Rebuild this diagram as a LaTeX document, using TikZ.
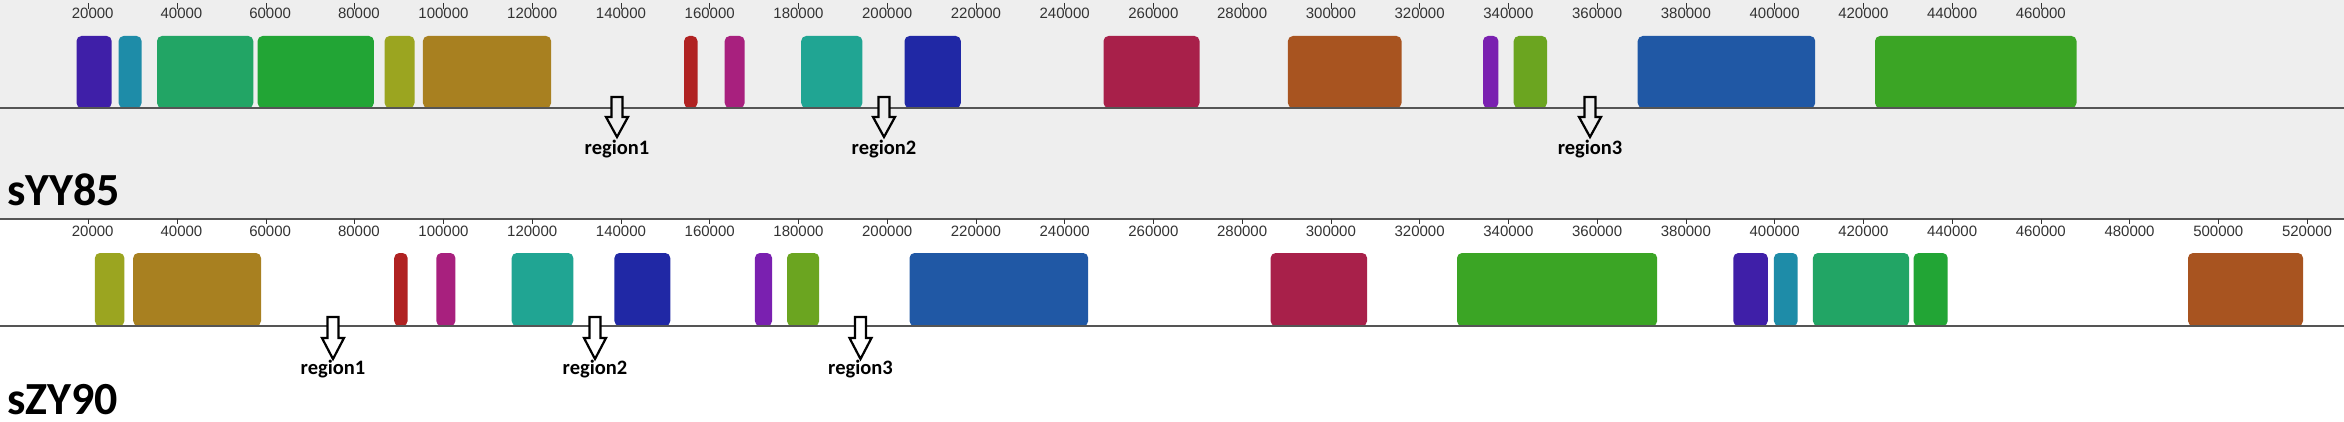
\documentclass[tikz,border=0pt]{standalone}
\usepackage{fontspec}
\setmainfont{Liberation Sans}
\newfontfamily\calib{Carlito}
\definecolor{bgtop}{HTML}{EEEEEE}
\definecolor{lineg}{HTML}{555555}
\definecolor{tickc}{HTML}{333333}
\definecolor{cIndigo}{HTML}{3F1FA8}
\definecolor{cTealBlue}{HTML}{1E8CA8}
\definecolor{cSeaGreen}{HTML}{22A565}
\definecolor{cGreen}{HTML}{22A535}
\definecolor{cOlive}{HTML}{9BA520}
\definecolor{cGold}{HTML}{A88020}
\definecolor{cRed}{HTML}{B02222}
\definecolor{cMagenta}{HTML}{A8207E}
\definecolor{cTeal}{HTML}{20A593}
\definecolor{cDarkBlue}{HTML}{2028A5}
\definecolor{cCrimson}{HTML}{A8204A}
\definecolor{cRust}{HTML}{A85420}
\definecolor{cPurple}{HTML}{7A20B0}
\definecolor{cLime}{HTML}{6BA520}
\definecolor{cBlue}{HTML}{2058A5}
\definecolor{cBigGreen}{HTML}{3BA525}
\begin{document}
\begin{tikzpicture}[x=1pt,y=-1pt,
  blk/.style={rounded corners=5pt},
  seqline/.style={line width=2pt,draw=lineg},
  tickmark/.style={draw=tickc,line width=1pt},
  tickl/.style={font=\fontsize{15}{15}\selectfont,text=tickc,anchor=base east,inner sep=0pt},
  regarrow/.style={draw=black,line width=2.2pt,line join=miter},
  reglab/.style={font=\calib\bfseries\fontsize{20.5}{20.5}\selectfont,inner sep=0pt,anchor=base},
  genome/.style={font=\calib\bfseries\fontsize{46}{46}\selectfont,inner sep=0pt,anchor=base west}]
\useasboundingbox (0,0) rectangle (2344,422);
\fill[bgtop] (0,0) rectangle (2344,219);
\fill[white] (0,219) rectangle (2344,422);

% ---------- top panel (sYY85) ----------
\foreach \k in {1,...,23}{
  \draw[tickmark] ({88.74*\k},3) -- ({88.74*\k},9);
  \node[tickl] (tt\k) at ({88.74*\k+25},19) {\the\numexpr\k*20000\relax};
}
\foreach \a/\b/\c in {76.5/111.7/cIndigo, 118.6/141.6/cTealBlue, 157/253.3/cSeaGreen,
  257.6/373.9/cGreen, 384.6/414.5/cOlive, 422.9/551.1/cGold, 684.1/697.5/cRed,
  724.7/744.6/cMagenta, 801.2/862.4/cTeal, 904.5/960.8/cDarkBlue, 1103.5/1199.5/cCrimson,
  1287.9/1401.5/cRust, 1483/1498.4/cPurple, 1513.7/1547/cLime, 1637.7/1815.2/cBlue,
  1875/2076.5/cBigGreen}{
  \fill[\c,blk] (\a,36) rectangle (\b,108);
}
\draw[seqline] (0,108) -- (2344,108);
\foreach \x/\n in {617/1, 884/2, 1590/3}{
  \filldraw[regarrow,fill=bgtop] (\x-5.5,97) -- (\x+5.5,97) -- (\x+5.5,117) -- (\x+11,117)
    -- (\x,137) -- (\x-11,117) -- (\x-5.5,117) -- cycle;
  \node[reglab] (rt\n) at (\x,155) {region\n};
}
\node[genome] (g1) at (7,206) {sYY85};

% ---------- divider ----------
\draw[seqline] (0,219) -- (2344,219);

% ---------- bottom panel (sZY90) ----------
\foreach \k in {1,...,26}{
  \draw[tickmark] ({88.74*\k},219) -- ({88.74*\k},224);
  \node[tickl] (tb\k) at ({88.74*\k+25},236.5) {\the\numexpr\k*20000\relax};
}
\foreach \a/\b/\c in {94.9/124.4/cOlive, 133.2/261/cGold, 394.2/407.6/cRed,
  436.3/455.4/cMagenta, 511.7/573.3/cTeal, 614.4/670.3/cDarkBlue, 754.9/772.1/cPurple,
  787/819.2/cLime, 909.5/1088.2/cBlue, 1270.6/1367.1/cCrimson, 1457/1657.2/cBigGreen,
  1733.3/1767.8/cIndigo, 1773.9/1797.7/cTealBlue, 1812.9/1909.1/cSeaGreen,
  1913.6/1947.7/cGreen, 2188/2303/cRust}{
  \fill[\c,blk] (\a,253) rectangle (\b,326);
}
\draw[seqline] (0,326) -- (2344,326);
\foreach \x/\n in {333/1, 595/2, 860.5/3}{
  \filldraw[regarrow,fill=white] (\x-5.5,317) -- (\x+5.5,317) -- (\x+5.5,338) -- (\x+11,338)
    -- (\x,359) -- (\x-11,338) -- (\x-5.5,338) -- cycle;
  \node[reglab] (rb\n) at (\x,374) {region\n};
}
\node[genome] (g2) at (7,414) {sZY90};
\end{tikzpicture}
\end{document}
